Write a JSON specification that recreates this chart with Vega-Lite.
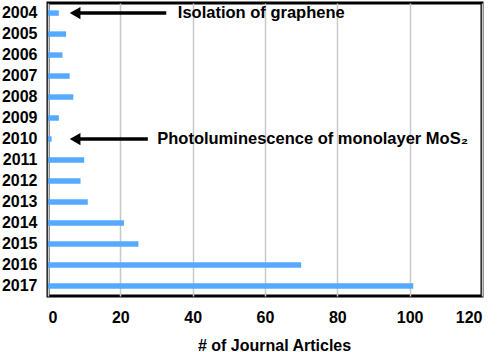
{
  "$schema": "https://vega.github.io/schema/vega-lite/v6.json",
  "width": 434,
  "height": 293,
  "autosize": "none",
  "padding": {"left": 48, "top": 3, "right": 18, "bottom": 56},
  "config": {
    "view": {"stroke": "black", "strokeWidth": 3},
    "font": "Liberation Sans"
  },
  "layer": [
    {
      "data": {"values": [
        {"year": "2004", "articles": 3},
        {"year": "2005", "articles": 5},
        {"year": "2006", "articles": 4},
        {"year": "2007", "articles": 6},
        {"year": "2008", "articles": 7},
        {"year": "2009", "articles": 3},
        {"year": "2010", "articles": 1},
        {"year": "2011", "articles": 10},
        {"year": "2012", "articles": 9},
        {"year": "2013", "articles": 11},
        {"year": "2014", "articles": 21},
        {"year": "2015", "articles": 25},
        {"year": "2016", "articles": 70},
        {"year": "2017", "articles": 101}
      ]},
      "mark": {"type": "bar", "color": "#55aaff"},
      "encoding": {
        "y": {
          "field": "year", "type": "ordinal",
          "scale": {"paddingInner": 0.74, "paddingOuter": 0.35},
          "axis": {"title": null, "domain": false, "ticks": false, "grid": false, "labelPadding": 11, "labelFontSize": 16, "labelFontWeight": "bold", "labelColor": "black"}
        },
        "x": {
          "field": "articles", "type": "quantitative",
          "scale": {"domain": [0, 120], "nice": false},
          "axis": {"values": [0, 20, 40, 60, 80, 100, 120], "grid": true, "gridColor": "#c8c8c8", "gridWidth": 1.5, "domain": false, "ticks": false, "labelPadding": 13, "labelFontSize": 16, "labelFontWeight": "bold", "labelColor": "black", "title": "# of Journal Articles", "titleFontSize": 16, "titleFontWeight": "bold", "titleColor": "black", "titlePadding": 12, "titleX": 226}
        }
      }
    },
    {
      "data": {"values": [
        {"year": "2004", "start": 7, "end": 32.7, "tip": 7.5, "tx": 35.9, "label": "Isolation of graphene"},
        {"year": "2010", "start": 7, "end": 27.6, "tip": 7.5, "tx": 30.2, "label": "Photoluminescence of monolayer MoS₂"}
      ]},
      "layer": [
        {
          "mark": {"type": "rule", "color": "black", "strokeWidth": 3.5},
          "encoding": {
            "y": {"field": "year", "type": "ordinal"},
            "x": {"field": "start", "type": "quantitative"},
            "x2": {"field": "end"}
          }
        },
        {
          "mark": {"type": "point", "shape": "triangle-left", "filled": true, "color": "black", "opacity": 1, "size": 150},
          "encoding": {
            "y": {"field": "year", "type": "ordinal"},
            "x": {"field": "tip", "type": "quantitative"}
          }
        },
        {
          "mark": {"type": "text", "align": "left", "baseline": "middle", "fontSize": 16.5, "fontWeight": "bold", "color": "black"},
          "encoding": {
            "y": {"field": "year", "type": "ordinal"},
            "x": {"field": "tx", "type": "quantitative"},
            "text": {"field": "label"}
          }
        }
      ]
    }
  ]
}
